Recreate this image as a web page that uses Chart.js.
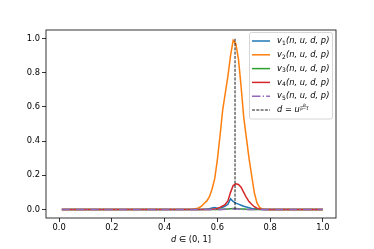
<!DOCTYPE html>
<html>
<head>
<meta charset="utf-8">
<script src="https://cdn.jsdelivr.net/npm/chart.js@4.4.0/dist/chart.umd.min.js"></script>
<style>
html, body { margin: 0; padding: 0; background: #fff; }
#wrap { width: 374px; height: 249px; }
</style>
</head>
<body>
<div id="wrap"><canvas id="myChart" width="374" height="249"></canvas></div>
<script>
// d values (x) – flat tails plus the region around the peak
const dGrid = [0.01,
    0.50, 0.51, 0.52, 0.53, 0.54, 0.55, 0.56, 0.57, 0.58, 0.59,
    0.60, 0.61, 0.62, 0.63, 0.64, 0.65, 0.66, 0.67, 0.68, 0.69,
    0.70, 0.71, 0.72, 0.73, 0.74, 0.75, 0.76, 0.77, 0.78, 0.79, 0.80,
    1.00];

const v1 = [0,
    0, 0, 0, 0, 0, 0.001, 0.002, 0.004, 0.008, 0.011,
    0.007, 0.009, 0.013, 0.02, 0.03, 0.062, 0.047, 0.037, 0.031, 0.025,
    0.019, 0.014, 0.01, 0.006, 0.004, 0.002, 0.001, 0, 0, 0, 0,
    0];
const v2 = [0,
    0.001, 0.002, 0.005, 0.01, 0.02, 0.035, 0.05, 0.075, 0.12, 0.18,
    0.29, 0.43, 0.58, 0.68, 0.78, 0.90, 0.99, 0.97, 0.88, 0.72,
    0.54, 0.42, 0.30, 0.20, 0.10, 0.04, 0.012, 0.003, 0.001, 0, 0,
    0];
const v3 = [0,
    0, 0, 0, 0, 0, 0, 0, 0, 0, 0,
    0, 0, 0.001, 0.002, 0.003, 0.004, 0.005, 0.005, 0.004, 0.003,
    0.002, 0.001, 0, 0, 0, 0, 0, 0, 0, 0, 0,
    0];
const v4 = [0,
    0, 0, 0, 0, 0, 0, 0, 0, 0.001, 0.003,
    0.006, 0.012, 0.02, 0.03, 0.05, 0.10, 0.14, 0.15, 0.146, 0.13,
    0.10, 0.07, 0.046, 0.03, 0.016, 0.007, 0.003, 0.001, 0, 0, 0,
    0];
const v5 = [0,
    0, 0, 0, 0, 0, 0, 0, 0, 0, 0,
    0, 0, 0, 0.001, 0.002, 0.003, 0.003, 0.003, 0.002, 0.001,
    0, 0, 0, 0, 0, 0, 0, 0, 0, 0, 0,
    0];

const dStar = 0.667;          // d = u^(p/(p-1))
const dStarY = [0, 1];
const xTicks = [0, 0.2, 0.4, 0.6, 0.8, 1.0];
const yTicks = [0, 0.2, 0.4, 0.6, 0.8, 1.0];
const subs = ['1', '2', '3', '4', '5'];

const colors = ['#1f77b4', '#ff7f0e', '#2ca02c', '#d62728', '#9467bd'];
const dashes = [[], [], [], [], [8.5, 2.2, 1.3, 2.2]];
const FONT = "'DejaVu Sans', sans-serif";

const series = [v1, v2, v3, v4, v5];
const datasets = series.map((vals, i) => ({
    label: 'v' + subs[i],
    data: dGrid.map((d, k) => ({ x: d, y: vals[k] })),
    borderColor: colors[i],
    borderDash: dashes[i],
    borderWidth: 1.5,
    pointRadius: 0,
    tension: 0,
    fill: false,
    order: 6 - i
}));
datasets.push({
    label: 'dstar',
    data: dStarY.map(y => ({ x: dStar, y: y })),
    borderColor: '#000',
    borderDash: [3, 1.3],
    borderWidth: 0.9,
    pointRadius: 0,
    fill: false,
    order: 0
});

// рамка, легенда и подпись оси
const decorPlugin = {
    id: 'decor',
    afterDraw(chart) {
        const { ctx, chartArea: a } = chart;
        ctx.save();
        ctx.strokeStyle = '#000';
        ctx.lineWidth = 0.8;
        ctx.strokeRect(a.left, a.top, a.right - a.left, a.bottom - a.top);

        // legend box
        const lx = 249.5, ly = 32.5, lw = 83, lh = 86.5;
        ctx.beginPath();
        ctx.roundRect(lx, ly, lw, lh, 2);
        ctx.fillStyle = 'rgba(255,255,255,0.8)';
        ctx.fill();
        ctx.strokeStyle = '#cccccc';
        ctx.lineWidth = 0.8;
        ctx.stroke();

        ctx.textBaseline = 'middle';
        ctx.textAlign = 'left';
        for (let i = 0; i < 6; i++) {
            const y = 41 + i * 13.8;
            const ds = chart.data.datasets[i];
            ctx.beginPath();
            ctx.setLineDash(ds.borderDash || []);
            ctx.strokeStyle = ds.borderColor;
            ctx.lineWidth = ds.borderWidth;
            ctx.moveTo(252, y);
            ctx.lineTo(270, y);
            ctx.stroke();
            ctx.setLineDash([]);
            ctx.fillStyle = '#000';
            let x = 277;
            if (i < 5) {
                ctx.font = 'italic 8.3px ' + FONT;
                ctx.fillText('v', x, y);
                x += ctx.measureText('v').width;
                ctx.font = '6px ' + FONT;
                ctx.fillText(subs[i], x, y + 2.2);
                x += ctx.measureText(subs[i]).width + 0.3;
                ctx.font = 'italic 8.3px ' + FONT;
                ctx.fillText('(n, u, d, p)', x, y);
            } else {
                ctx.font = 'italic 8.3px ' + FONT;
                ctx.fillText('d', x, y);
                x += ctx.measureText('d').width;
                ctx.font = '8.3px ' + FONT;
                ctx.fillText(' = ', x, y);
                x += ctx.measureText(' = ').width;
                ctx.font = 'italic 8.3px ' + FONT;
                ctx.fillText('u', x, y);
                x += ctx.measureText('u').width + 0.5;
                ctx.font = 'italic 4px ' + FONT;
                const den = 'p\u22121';
                const dw = ctx.measureText(den).width;
                ctx.textAlign = 'center';
                ctx.fillText('p', x + dw / 2, y - 5.5);
                ctx.fillText(den, x + dw / 2, y - 1.3);
                ctx.textAlign = 'left';
                ctx.beginPath();
                ctx.lineWidth = 0.4;
                ctx.strokeStyle = '#000';
                ctx.moveTo(x, y - 3.4);
                ctx.lineTo(x + dw, y - 3.4);
                ctx.stroke();
            }
        }

        // x axis label
        const cx = (a.left + a.right) / 2;
        const parts = [['d', 'italic 8.3px '], [' \u2208 (0, 1]', '8.3px ']];
        let tw = 0;
        parts.forEach(p => { ctx.font = p[1] + FONT; tw += ctx.measureText(p[0]).width; });
        let x = cx - tw / 2;
        ctx.fillStyle = '#000';
        parts.forEach(p => {
            ctx.font = p[1] + FONT;
            ctx.fillText(p[0], x, 240);
            x += ctx.measureText(p[0]).width;
        });
        ctx.restore();
    }
};

new Chart(document.getElementById('myChart').getContext('2d'), {
    type: 'line',
    data: { datasets: datasets },
    options: {
        responsive: false,
        animation: false,
        layout: { padding: { top: 30, right: 38, left: 0, bottom: 0 } },
        plugins: { legend: { display: false }, tooltip: { enabled: false } },
        scales: {
            x: {
                type: 'linear',
                min: -0.05, max: 1.05,
                afterBuildTicks: s => { s.ticks = xTicks.map(v => ({ value: v })); },
                afterFit: s => { s.height = 31; },
                grid: { drawOnChartArea: false, drawTicks: true, tickLength: 4, color: '#000', tickWidth: 0.8 },
                border: { display: false },
                ticks: { color: '#000', font: { family: FONT, size: 8.3 }, padding: 1, maxRotation: 0,
                    callback: v => v.toFixed(1) }
            },
            y: {
                min: -0.05, max: 1.05,
                afterBuildTicks: s => { s.ticks = yTicks.map(v => ({ value: v })); },
                afterFit: s => { s.width = 46; },
                grid: { drawOnChartArea: false, drawTicks: true, tickLength: 4, color: '#000', tickWidth: 0.8 },
                border: { display: false },
                ticks: { color: '#000', font: { family: FONT, size: 8.3 }, padding: 2,
                    callback: v => v.toFixed(1) }
            }
        }
    },
    plugins: [decorPlugin]
});
</script>
</body>
</html>
